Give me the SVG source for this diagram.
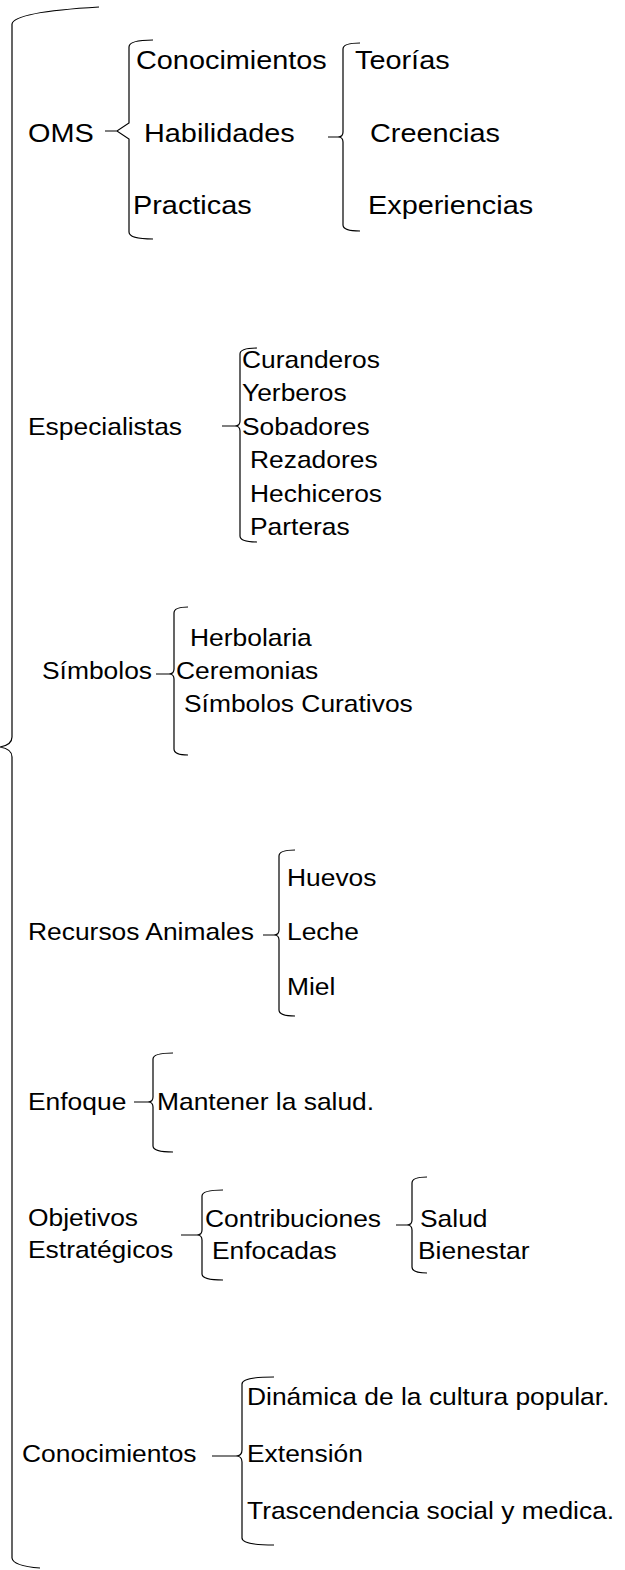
<svg xmlns="http://www.w3.org/2000/svg" width="625" height="1570" viewBox="0 0 625 1570">
<style>
.br{fill:none;stroke:#000;stroke-width:1.2}
text{font-family:"Liberation Sans",Arial,sans-serif;fill:#000}
.t1{font-size:26px}
.t2{font-size:24px}
</style>
<rect width="625" height="1570" fill="#fff"/>
<g id="connectors">
<path class="br" d="M99,7 Q14,12 12,24 L12,737 Q12,745 0,747 Q12,749 12,757 L12,1558 Q13,1566 40,1568"/>
<path class="br" d="M153,40 Q129,40 129,47 L129,123 L117,131 L105,131 L117,131 L129,139 L129,232 Q129,239 153,239"/>
<path class="br" d="M360,43 Q343,43 343,49 L343,132 Q343,137 338,137 L328,137 L338,137 Q343,137 343,142 L343,225 Q343,231 360,231"/>
<path class="br" d="M257,348 Q240,348 240,354 L240,421 Q240,426 235,426 L222,426 L235,426 Q240,426 240,431 L240,536 Q240,542 257,542"/>
<path class="br" d="M188,607 Q174,607 174,613 L174,669 Q174,674 169,674 L156,674 L169,674 Q174,674 174,679 L174,749 Q174,755 188,755"/>
<path class="br" d="M295,850 Q279,850 279,856 L279,930 Q279,935 274,935 L263,935 L274,935 Q279,935 279,940 L279,1010 Q279,1016 295,1016"/>
<path class="br" d="M173,1053 Q153,1053 153,1059 L153,1097 Q153,1102 148,1102 L134,1102 L148,1102 Q153,1102 153,1107 L153,1146 Q153,1152 173,1152"/>
<path class="br" d="M223,1190 Q202,1190 202,1196 L202,1230 Q202,1235 197,1235 L181,1235 L197,1235 Q202,1235 202,1240 L202,1274 Q202,1280 223,1280"/>
<path class="br" d="M427,1177 Q412,1177 412,1183 L412,1220 Q412,1225 407,1225 L396,1225 L407,1225 Q412,1225 412,1230 L412,1267 Q412,1273 427,1273"/>
<path class="br" d="M274,1377 Q242,1377 242,1384 L242,1450 Q242,1456 236,1456 L212,1456 L236,1456 Q242,1456 242,1462 L242,1538 Q242,1545 274,1545"/>
</g>
<g id="n-oms"><text class="t1" transform="translate(28,142) scale(1.11,1)">OMS</text></g>
<g id="n-conocimientos1"><text class="t1" transform="translate(136,69) scale(1.11,1)">Conocimientos</text></g>
<g id="n-habilidades"><text class="t1" transform="translate(144,142) scale(1.11,1)">Habilidades</text></g>
<g id="n-practicas"><text class="t1" transform="translate(133,214) scale(1.11,1)">Practicas</text></g>
<g id="n-teorias"><text class="t1" transform="translate(355,69) scale(1.11,1)">Teorías</text></g>
<g id="n-creencias"><text class="t1" transform="translate(370,142) scale(1.11,1)">Creencias</text></g>
<g id="n-experiencias"><text class="t1" transform="translate(368,214) scale(1.11,1)">Experiencias</text></g>
<g id="n-especialistas"><text class="t2" transform="translate(28,435) scale(1.1,1)">Especialistas</text></g>
<g id="n-curanderos"><text class="t2" transform="translate(242,368) scale(1.1,1)">Curanderos</text></g>
<g id="n-yerberos"><text class="t2" transform="translate(242,401) scale(1.1,1)">Yerberos</text></g>
<g id="n-sobadores"><text class="t2" transform="translate(242,435) scale(1.1,1)">Sobadores</text></g>
<g id="n-rezadores"><text class="t2" transform="translate(250,468) scale(1.1,1)">Rezadores</text></g>
<g id="n-hechiceros"><text class="t2" transform="translate(250,502) scale(1.1,1)">Hechiceros</text></g>
<g id="n-parteras"><text class="t2" transform="translate(250,535) scale(1.1,1)">Parteras</text></g>
<g id="n-simbolos"><text class="t2" transform="translate(42,679) scale(1.1,1)">Símbolos</text></g>
<g id="n-herbolaria"><text class="t2" transform="translate(190,646) scale(1.1,1)">Herbolaria</text></g>
<g id="n-ceremonias"><text class="t2" transform="translate(176,679) scale(1.1,1)">Ceremonias</text></g>
<g id="n-simbcur"><text class="t2" transform="translate(184,712) scale(1.1,1)">Símbolos Curativos</text></g>
<g id="n-recursos"><text class="t2" transform="translate(28,940) scale(1.1,1)">Recursos Animales</text></g>
<g id="n-huevos"><text class="t2" transform="translate(287,886) scale(1.1,1)">Huevos</text></g>
<g id="n-leche"><text class="t2" transform="translate(287,940) scale(1.1,1)">Leche</text></g>
<g id="n-miel"><text class="t2" transform="translate(287,995) scale(1.1,1)">Miel</text></g>
<g id="n-enfoque"><text class="t2" transform="translate(28,1110) scale(1.1,1)">Enfoque</text></g>
<g id="n-mantener"><text class="t2" transform="translate(157,1110) scale(1.1,1)">Mantener la salud.</text></g>
<g id="n-objetivos"><text class="t2" transform="translate(28,1226) scale(1.1,1)">Objetivos</text><text class="t2" transform="translate(28,1258) scale(1.1,1)">Estratégicos</text></g>
<g id="n-contribuciones"><text class="t2" transform="translate(205,1227) scale(1.1,1)">Contribuciones</text><text class="t2" transform="translate(212,1259) scale(1.1,1)">Enfocadas</text></g>
<g id="n-salud"><text class="t2" transform="translate(420,1227) scale(1.1,1)">Salud</text></g>
<g id="n-bienestar"><text class="t2" transform="translate(418,1259) scale(1.1,1)">Bienestar</text></g>
<g id="n-conocimientos2"><text class="t2" transform="translate(22,1462) scale(1.1,1)">Conocimientos</text></g>
<g id="n-dinamica"><text class="t2" transform="translate(247,1405) scale(1.1,1)">Dinámica de la cultura popular.</text></g>
<g id="n-extension"><text class="t2" transform="translate(247,1462) scale(1.1,1)">Extensión</text></g>
<g id="n-trascendencia"><text class="t2" transform="translate(247,1519) scale(1.1,1)">Trascendencia social y medica.</text></g>
</svg>
